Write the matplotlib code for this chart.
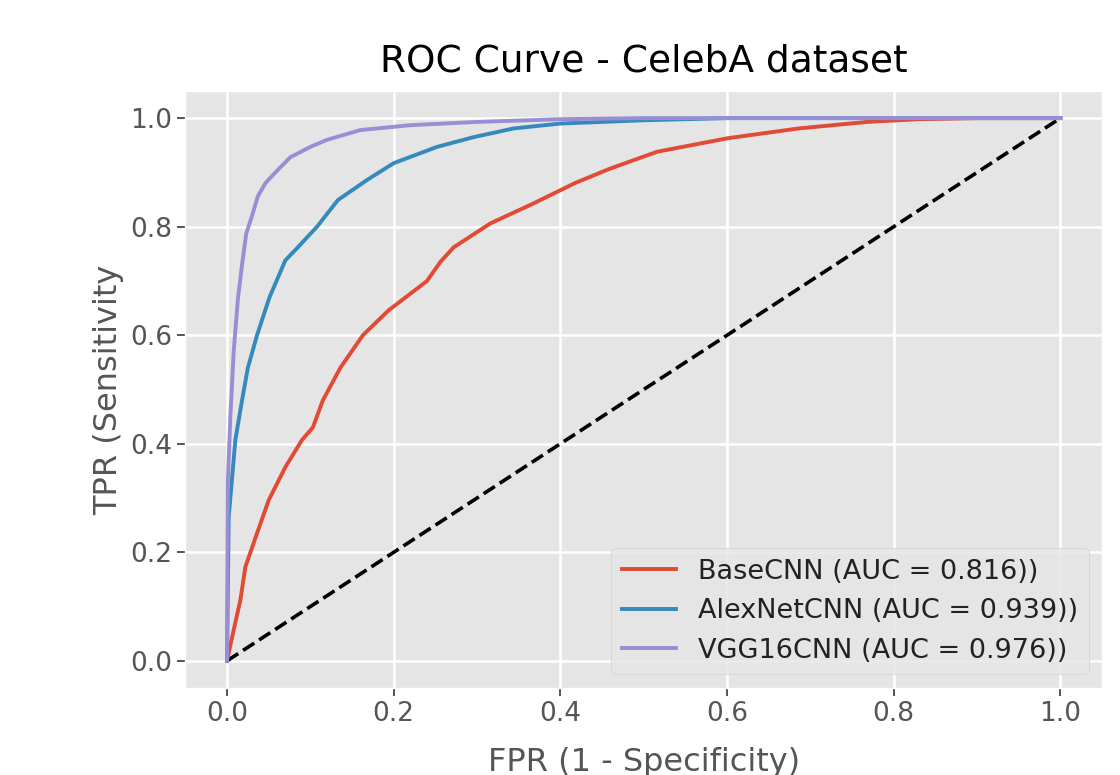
import matplotlib
matplotlib.use("Agg")
import matplotlib.pyplot as plt

plt.style.use("ggplot")

title = "ROC Curve - CelebA dataset"
xlabel = "FPR (1 - Specificity)"
ylabel = "TPR (Sensitivity"

labels = ["BaseCNN (AUC = 0.816))", "AlexNetCNN (AUC = 0.939))", "VGG16CNN (AUC = 0.976))"]

base_fpr = [0, 0.007, 0.016, 0.022, 0.036, 0.05, 0.07, 0.09, 0.103, 0.115, 0.136, 0.163,
            0.194, 0.24, 0.256, 0.272, 0.316, 0.368, 0.417, 0.458, 0.516, 0.601, 0.686,
            0.768, 0.83, 0.9, 1.0]
base_tpr = [0, 0.05, 0.112, 0.173, 0.235, 0.296, 0.357, 0.407, 0.43, 0.48, 0.54, 0.60,
            0.646, 0.70, 0.735, 0.762, 0.806, 0.843, 0.88, 0.906, 0.938, 0.963, 0.981,
            0.993, 0.998, 1.0, 1.0]

alex_fpr = [0, 0.002, 0.01, 0.018, 0.025, 0.036, 0.051, 0.07, 0.085, 0.108, 0.133, 0.168,
            0.2, 0.252, 0.296, 0.344, 0.4, 0.5, 0.6, 1.0]
alex_tpr = [0, 0.265, 0.407, 0.48, 0.54, 0.60, 0.67, 0.738, 0.762, 0.8, 0.849, 0.886,
            0.917, 0.947, 0.965, 0.981, 0.99, 0.996, 1.0, 1.0]

vgg_fpr = [0, 0.001, 0.004, 0.008, 0.013, 0.018, 0.023, 0.03, 0.037, 0.046, 0.058, 0.076,
           0.1, 0.12, 0.16, 0.22, 0.3, 0.4, 0.5, 1.0]
vgg_tpr = [0, 0.33, 0.45, 0.57, 0.666, 0.73, 0.787, 0.82, 0.856, 0.88, 0.9, 0.928,
           0.947, 0.96, 0.978, 0.987, 0.993, 0.998, 1.0, 1.0]

diag = [0, 1]

colors = ["#E24A33", "#348ABD", "#988ED5"]

fig = plt.figure(figsize=(11.2, 7.75), dpi=100)
ax = fig.add_axes([0.1655, 0.1123, 0.8185, 0.7703])

ax.plot(diag, diag, "k--", lw=2.6)
for fpr, tpr, lab, c in zip([base_fpr, alex_fpr, vgg_fpr], [base_tpr, alex_tpr, vgg_tpr], labels, colors):
    ax.plot(fpr, tpr, color=c, lw=2.8, label=lab)

ax.set_xlim(-0.05, 1.05)
ax.set_ylim(-0.05, 1.05)
ax.set_xticks([0.0, 0.2, 0.4, 0.6, 0.8, 1.0])
ax.set_yticks([0.0, 0.2, 0.4, 0.6, 0.8, 1.0])
ax.tick_params(labelsize=19, length=6, width=1.4, colors="#555555")
ax.grid(True, color="white", lw=1.8)

ax.set_title(title, fontsize=27, pad=14)
ax.set_xlabel(xlabel, fontsize=23, color="#555555", labelpad=14)
ax.set_ylabel(ylabel, fontsize=23, color="#555555")

leg = ax.legend(loc="lower right", fontsize=19.5)
for t in leg.get_texts():
    t.set_color("#222222")

fig.savefig("out.png", dpi=100)
